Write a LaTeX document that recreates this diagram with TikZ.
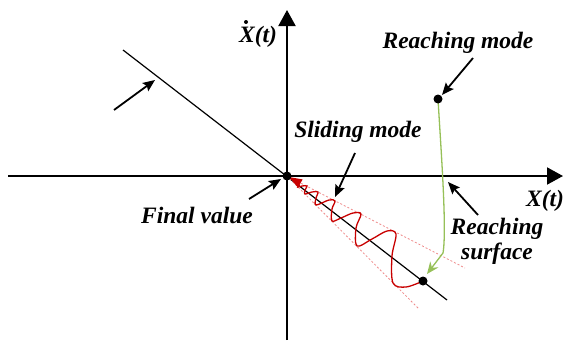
\documentclass[tikz,border=0pt]{standalone}
\usepackage{fontspec}
\setmainfont{Liberation Serif}
\usetikzlibrary{arrows.meta}
\definecolor{wavered}{HTML}{C80000}
\definecolor{conered}{HTML}{EE8A8A}
\definecolor{reachgreen}{HTML}{96C058}

\begin{document}
\begin{tikzpicture}[x=1pt,y=-1pt,
  lbl/.style={font=\fontsize{23.5}{25}\selectfont\bfseries\itshape,inner sep=0pt,align=center},
  axis/.style={line width=2pt,-{Triangle[length=16pt,width=17pt]}},
  pointer/.style={line width=1.8pt,-{Stealth[length=12pt,width=10pt,inset=2pt]}},
  dot/.style={circle,fill,inner sep=0pt,minimum size=9pt}]
  \useasboundingbox (0,0) rectangle (564,340);
  % axes
  \coordinate (O) at (287,176);
  \coordinate (xL) at (8,176);
  \coordinate (xR) at (563,176);
  \coordinate (yB) at (287,340);
  \coordinate (yT) at (287,10);
  \draw[axis] (xL) -- (xR);
  \draw[axis] (yB) -- (yT);
  \node[lbl] (xlab) at (545,201) {X(t)};
  \node[lbl] (xdlab) at (258,37) {X(t)};
  \fill (246,22) circle (2pt);
  % sliding surface and cone
  \coordinate (sA) at (123,50);
  \coordinate (sB) at (447,300);
  \coordinate (coneUp) at (465,268);
  \coordinate (coneLo) at (418,308);
  \draw[line width=1.2pt] (sA) -- (sB);
  \draw[conered,line width=0.8pt,dash pattern=on 2pt off 2pt] (O) -- (coneUp);
  \draw[conered,line width=0.8pt,dash pattern=on 2pt off 2pt] (O) -- (coneLo);
  % reaching phase
  \coordinate (rmPt) at (438,99);
  \coordinate (hitPt) at (423,281);
  \draw[reachgreen,line width=1.3pt,-{Stealth[length=12pt,width=10pt]}]
    (rmPt) .. controls (441,150) and (447,230) .. (443,253) -- (427,274);
  % sliding phase
  \draw[wavered,line width=1.3pt,-{Triangle[length=13pt,width=9pt]}]
    plot[smooth,tension=0.55] coordinates {(423,281) (406,287) (393,283) (392,256)
      (396,234) (387,231) (372,239) (357,246) (356,228) (361,214) (353,213)
      (341,218) (332,221) (332,209) (335,201) (329,200) (316,205) (316,198)
      (318,192) (312,192) (305,194) (305,190) (307,186) (302,186) (298,187)
      (299,183.5) (289,177)};
  \node[dot] (origin) at (O) {};
  \node[dot] (rmDot) at (rmPt) {};
  \node[dot] (hitDot) at (hitPt) {};
  % labels and pointers
  \node[lbl] (rmLab) at (458,43) {Reaching mode};
  \node[lbl] (smLab) at (358,132) {Sliding mode};
  \node[lbl] (fvLab) at (197,215) {Final value};
  \node[lbl] (rsLab) at (497,241) {Reaching\\surface};
  \coordinate (rmTail) at (473,58);
  \coordinate (rmHead) at (442,95);
  \coordinate (smTail) at (355,153);
  \coordinate (smHead) at (335,197);
  \coordinate (fvTail) at (249,199);
  \coordinate (fvHead) at (281,179);
  \coordinate (rsTail) at (478,215);
  \coordinate (rsHead) at (448,182);
  \coordinate (ssTail) at (114,110);
  \coordinate (ssHead) at (155,80);
  \draw[pointer] (rmTail) -- (rmHead);
  \draw[pointer] (smTail) -- (smHead);
  \draw[pointer] (fvTail) -- (fvHead);
  \draw[pointer] (rsTail) -- (rsHead);
  \draw[pointer] (ssTail) -- (ssHead);
\end{tikzpicture}
\end{document}
